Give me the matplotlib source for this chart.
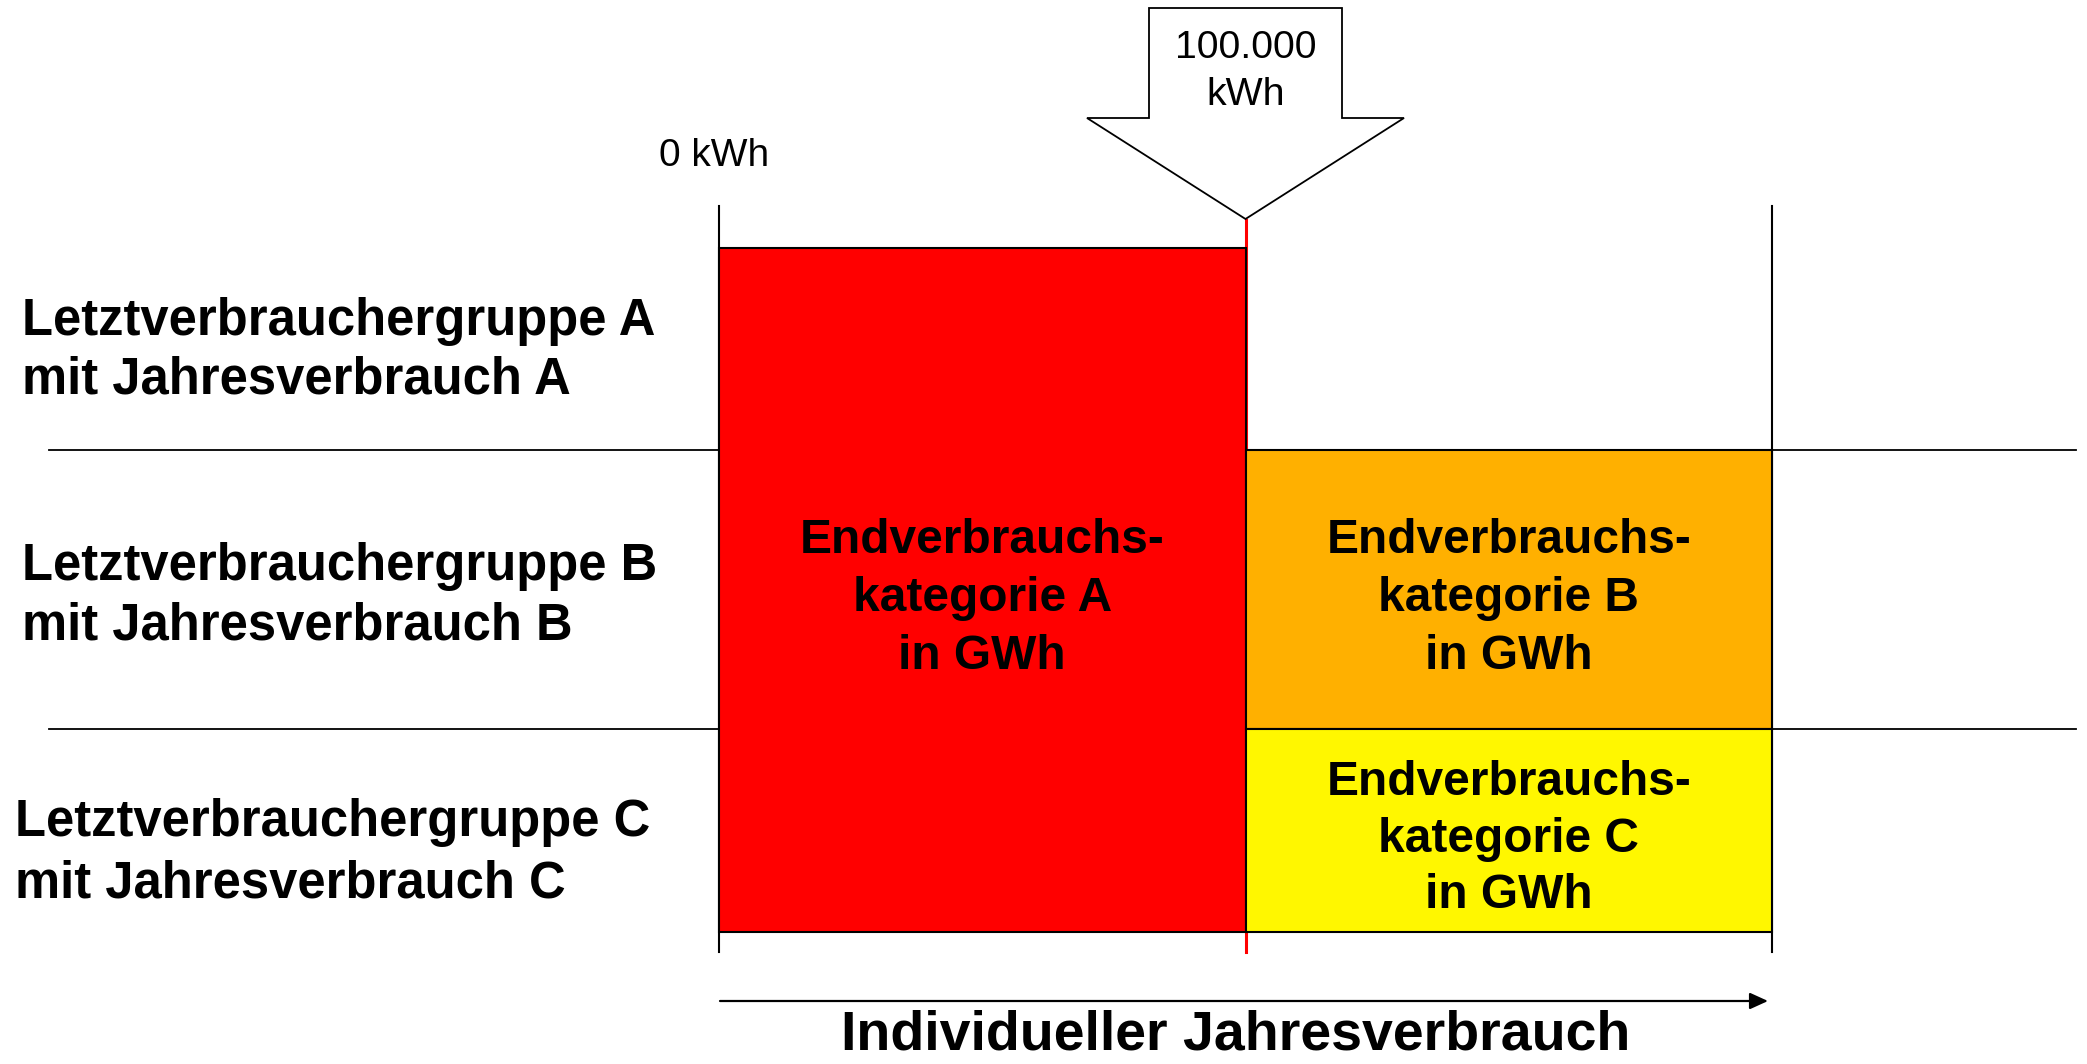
import matplotlib
matplotlib.use("Agg")
import matplotlib.pyplot as plt
from matplotlib.patches import Rectangle, Polygon

plt.rcParams["font.family"] = ["Liberation Sans", "DejaVu Sans"]

# ========= DATA =========
# consumption scale (kWh): start, threshold, end of the drawn range
KWH_START = 0
KWH_THRESHOLD = 100000
KWH_END = 200000

THRESHOLD_LABEL = ["100.000", "kWh"]
START_LABEL = "0 kWh"
AXIS_LABEL = "Individueller Jahresverbrauch"

GROUP_LABELS = [
    ["Letztverbrauchergruppe A", "mit Jahresverbrauch A"],
    ["Letztverbrauchergruppe B", "mit Jahresverbrauch B"],
    ["Letztverbrauchergruppe C", "mit Jahresverbrauch C"],
]
CATEGORY_LABELS = [
    ["Endverbrauchs-", "kategorie A", "in GWh"],
    ["Endverbrauchs-", "kategorie B", "in GWh"],
    ["Endverbrauchs-", "kategorie C", "in GWh"],
]
CATEGORY_COLORS = ["#FF0000", "#FFB000", "#FFF700"]

# ========= LAYOUT (pixels) =========
W, H = 2087, 1064
DPI = 100
X0_PX = 719          # where 0 kWh sits
UNIT_PX = 526.5      # pixels per 100.000 kWh
ROW_TOP, ROW_AB, ROW_BC, ROW_BOTTOM = 248, 450, 729, 932
VLINE_TOP, VLINE_BOTTOM = 206, 952
HLINE_LEFT, HLINE_RIGHT = 49, 2076


def px(kwh):
    return X0_PX + kwh / KWH_THRESHOLD * UNIT_PX


def main():
    fig = plt.figure(figsize=(W / DPI, H / DPI), dpi=DPI)
    ax = fig.add_axes([0, 0, 1, 1])
    ax.set_xlim(0, W)
    ax.set_ylim(H, 0)
    ax.axis("off")

    x_start, x_thr, x_end = px(KWH_START), px(KWH_THRESHOLD), px(KWH_END)

    # separator lines between groups
    for y in (ROW_AB, ROW_BC):
        ax.plot([HLINE_LEFT, HLINE_RIGHT], [y, y], color="black", lw=1.3, zorder=1)

    # vertical scale lines
    for x in (x_start, x_end):
        ax.plot([x, x], [VLINE_TOP, VLINE_BOTTOM], color="black", lw=1.5, zorder=1)
    ax.plot([x_thr, x_thr], [220, VLINE_BOTTOM], color="#FF0000", lw=2.2, zorder=1)

    # category blocks
    blocks = [
        (x_start, ROW_TOP, x_thr - x_start, ROW_BOTTOM - ROW_TOP),
        (x_thr, ROW_AB, x_end - x_thr, ROW_BC - ROW_AB),
        (x_thr, ROW_BC, x_end - x_thr, ROW_BOTTOM - ROW_BC),
    ]
    for (x, y, w, h), color in zip(blocks, CATEGORY_COLORS):
        ax.add_patch(Rectangle((x, y), w, h, facecolor=color,
                               edgecolor="black", lw=1.5, zorder=2))

    # category texts
    cat_baselines = [[553, 611, 669], [553, 611, 669], [795, 852, 908]]
    for (x, y, w, h), lines, bases in zip(blocks, CATEGORY_LABELS, cat_baselines):
        for line, b in zip(lines, bases):
            ax.text(x + w / 2, b, line, ha="center", va="baseline",
                    fontsize=34.5, fontweight="bold", zorder=3)

    # group labels on the left
    grp_x = [22, 22, 15]
    grp_baselines = [[335, 394], [580, 639], [836, 897]]
    for lines, gx, bases in zip(GROUP_LABELS, grp_x, grp_baselines):
        for line, b in zip(lines, bases):
            ax.text(gx, b, line, ha="left", va="baseline",
                    fontsize=36.5, fontweight="bold")

    # threshold block arrow
    shaft = 96.5
    head = 158.5
    arrow = Polygon([
        (x_thr - shaft, 8), (x_thr + shaft, 8), (x_thr + shaft, 118),
        (x_thr + head, 118), (x_thr, 219), (x_thr - head, 118),
        (x_thr - shaft, 118),
    ], closed=True, facecolor="white", edgecolor="black", lw=1.3, zorder=4)
    ax.add_patch(arrow)
    ax.text(x_thr, 58, THRESHOLD_LABEL[0], ha="center", va="baseline",
            fontsize=28.3, zorder=5)
    ax.text(x_thr, 105, THRESHOLD_LABEL[1], ha="center", va="baseline",
            fontsize=28.3, zorder=5)

    ax.text(x_start - 5, 166, START_LABEL, ha="center", va="baseline", fontsize=28)

    # bottom direction arrow
    ax.annotate("", xy=(1768, 1001), xytext=(720, 1001),
                arrowprops=dict(arrowstyle="-|>,head_length=1.1,head_width=0.5",
                                color="black", lw=1.6, shrinkA=0, shrinkB=0))
    ax.text((720 + 1768) / 2 - 8, 1049, AXIS_LABEL, ha="center", va="baseline",
            fontsize=40, fontweight="bold")

    fig.savefig("out.png", dpi=DPI, facecolor="white")
    plt.close(fig)


if __name__ == "__main__":
    main()
